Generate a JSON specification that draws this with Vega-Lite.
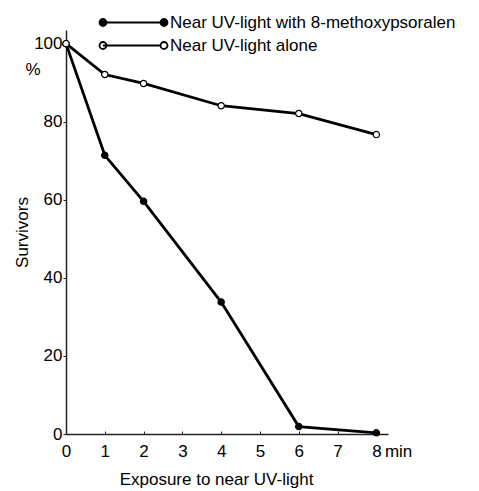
{
  "$schema": "https://vega.github.io/schema/vega-lite/v6.json",
  "autosize": "none",
  "width": 322,
  "height": 404,
  "padding": {"left": 66, "top": 30, "right": 91, "bottom": 57},
  "background": "white",
  "config": {
    "view": {"stroke": null},
    "font": "Liberation Sans",
    "axis": {
      "grid": false,
      "domainColor": "#222",
      "domainWidth": 1.5,
      "tickColor": "#222",
      "tickWidth": 1,
      "labelColor": "black",
      "labelFont": "Liberation Sans",
      "labelFontSize": 17,
      "titleFont": "Liberation Sans",
      "titleFontSize": 17,
      "titleFontWeight": "normal",
      "titleColor": "black"
    },
    "legend": {
      "labelFont": "Liberation Sans",
      "labelFontSize": 17,
      "labelColor": "black",
      "labelLimit": 0
    }
  },
  "data": {
    "values": [
      {"min": 0, "survivors": 100, "series": "Near UV-light with 8-methoxypsoralen"},
      {"min": 1, "survivors": 71.4, "series": "Near UV-light with 8-methoxypsoralen"},
      {"min": 2, "survivors": 59.6, "series": "Near UV-light with 8-methoxypsoralen"},
      {"min": 4, "survivors": 33.8, "series": "Near UV-light with 8-methoxypsoralen"},
      {"min": 6, "survivors": 1.9, "series": "Near UV-light with 8-methoxypsoralen"},
      {"min": 8, "survivors": 0.3, "series": "Near UV-light with 8-methoxypsoralen"},
      {"min": 0, "survivors": 100, "series": "Near UV-light alone"},
      {"min": 1, "survivors": 92.1, "series": "Near UV-light alone"},
      {"min": 2, "survivors": 89.8, "series": "Near UV-light alone"},
      {"min": 4, "survivors": 84.1, "series": "Near UV-light alone"},
      {"min": 6, "survivors": 82.1, "series": "Near UV-light alone"},
      {"min": 8, "survivors": 76.7, "series": "Near UV-light alone"}
    ]
  },
  "layer": [
    {
      "mark": {"type": "line", "color": "black", "strokeWidth": 2.8},
      "encoding": {
        "x": {
          "field": "min", "type": "quantitative",
          "scale": {"domain": [0, 8.3], "nice": false},
          "axis": {
            "values": [0, 1, 2, 3, 4, 5, 6, 7, 8],
            "tickSize": -3,
            "labelPadding": 12,
            "labelFlush": false,
            "title": "Exposure to near UV-light",
            "titleX": 150,
            "titlePadding": 12
          }
        },
        "y": {
          "field": "survivors", "type": "quantitative",
          "scale": {"domain": [0, 103.5], "nice": false},
          "axis": {
            "values": [0, 20, 40, 60, 80, 100],
            "tickSize": 3,
            "labelPadding": 1,
            "labelFlush": false,
            "title": "Survivors",
            "titlePadding": 2
          }
        },
        "detail": {"field": "series"}
      }
    },
    {
      "mark": {"type": "point", "filled": true, "opacity": 1, "stroke": "black", "strokeWidth": 1.2, "size": 40},
      "encoding": {
        "x": {"field": "min", "type": "quantitative"},
        "y": {"field": "survivors", "type": "quantitative"},
        "fill": {
          "field": "series", "type": "nominal",
          "scale": {"domain": ["Near UV-light with 8-methoxypsoralen", "Near UV-light alone"], "range": ["black", "white"]},
          "legend": {
            "title": null,
            "orient": "none",
            "legendX": 31,
            "legendY": -16,
            "symbolType": "M-6.1,0L5.4,0M-6.8,0A0.7,0.7 0 1,1 -5.4,0A0.7,0.7 0 1,1 -6.8,0ZM5.4,0A0.7,0.7 0 1,1 6.8,0A0.7,0.7 0 1,1 5.4,0Z",
            "symbolSize": 100,
            "symbolStrokeColor": "black",
            "symbolStrokeWidth": 1.8,
            "symbolOffset": 28,
            "labelOffset": 28,
            "rowPadding": 5
          }
        }
      }
    },
    {
      "data": {"values": [{"note": "%"}]},
      "mark": {"type": "text", "fontSize": 17, "fontWeight": "normal", "font": "Liberation Sans", "color": "black", "align": "center", "baseline": "middle"},
      "encoding": {
        "x": {"datum": -0.85},
        "y": {"datum": 93.2},
        "text": {"field": "note"}
      }
    },
    {
      "data": {"values": [{"note": "min"}]},
      "mark": {"type": "text", "fontSize": 17, "fontWeight": "normal", "font": "Liberation Sans", "color": "black", "align": "left", "baseline": "middle"},
      "encoding": {
        "x": {"datum": 8.22},
        "y": {"datum": -4.5},
        "text": {"field": "note"}
      }
    }
  ]
}
